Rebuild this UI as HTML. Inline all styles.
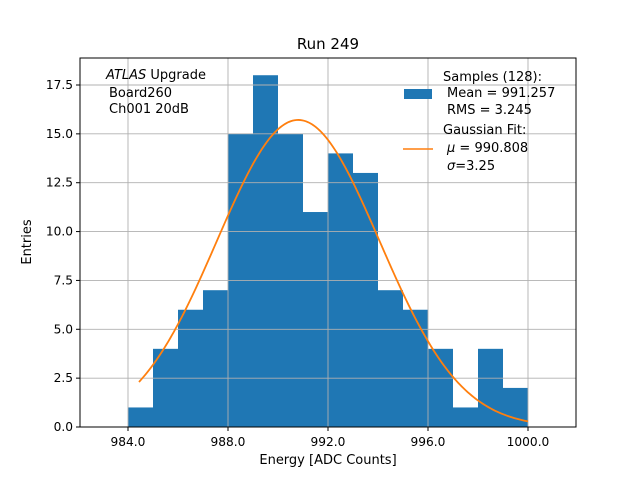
<!DOCTYPE html>
<html><head><meta charset="utf-8"><style>
body{margin:0;background:#fff}
svg{display:block;font-family:"DejaVu Sans","Liberation Sans",sans-serif}
</style></head><body>
<svg id="chart" width="640" height="480">
<rect width="640" height="480" fill="#fff"/>
<text x="328" y="49" text-anchor="middle" font-size="15">Run 249</text>
<g id="bars"></g>
<g id="grid"></g>
<path id="fit" fill="none" stroke="#ff7f0e" stroke-width="1.8"/>
<rect x="80" y="58" width="496" height="369" fill="none" stroke="#000" stroke-width="1"/>
<g id="xticks"></g>
<g id="yticks"></g>
<text x="328" y="467" text-anchor="middle" font-size="13" dy="-3">Energy [ADC Counts]</text>
<text transform="translate(31,242) rotate(-90)" text-anchor="middle" font-size="13">Entries</text>
<g font-size="13">
<text x="106" y="79"><tspan font-style="italic">ATLAS</tspan> Upgrade</text>
<text x="109" y="97">Board260</text>
<text x="109" y="113">Ch001 20dB</text>
</g>
<g font-size="13">
<rect x="404" y="89" width="28" height="10" fill="#1f77b4"/>
<text x="443" y="81">Samples (128):</text>
<text x="447" y="97">Mean = 991.257</text>
<text x="447" y="114">RMS = 3.245</text>
<line x1="403" y1="149" x2="433" y2="149" stroke="#ff7f0e" stroke-width="1.5"/>
<text x="443" y="134">Gaussian Fit:</text>
<text x="447" y="152"><tspan font-style="italic">μ</tspan> = 990.808</text>
<text x="447" y="170"><tspan font-style="italic">σ</tspan>=3.25</text>
</g>
</svg>
<script>
const binEdges=[984,985,986,987,988,989,990,991,992,993,994,995,996,997,998,999];
const counts=[1,4,6,7,15,18,15,11,14,13,7,6,4,1,4,2];
const fitMu=990.808, fitSigma=3.25, fitN=128;
const xTickVals=[984,988,992,996,1000];
const yTickVals=[0,2.5,5,7.5,10,12.5,15,17.5];
const NS='http://www.w3.org/2000/svg';
const X=v=>80+(v-982.08)*25, Y=v=>427-v*19.543;
const bars=document.getElementById('bars');
binEdges.forEach((e,i)=>{const r=document.createElementNS(NS,'rect');
r.setAttribute('x',X(e));r.setAttribute('width',25);r.setAttribute('y',Y(counts[i]));r.setAttribute('height',Y(0)-Y(counts[i]));r.setAttribute('fill','#1f77b4');


bars.appendChild(r);});
const grid=document.getElementById('grid'),xt=document.getElementById('xticks'),yt=document.getElementById('yticks');
function ln(g,x1,y1,x2,y2,c){const l=document.createElementNS(NS,'line');l.setAttribute('x1',x1);l.setAttribute('y1',y1);l.setAttribute('x2',x2);l.setAttribute('y2',y2);l.setAttribute('stroke',c);l.setAttribute('stroke-width',c=='#000'?1:0.9);g.appendChild(l);return l;}
function tx(g,x,y,s,a){const t=document.createElementNS(NS,'text');t.setAttribute('x',x);t.setAttribute('y',y);t.setAttribute('text-anchor',a);t.setAttribute('font-size','12.2');t.textContent=s;g.appendChild(t);return t;}
xTickVals.forEach(v=>{const gl=ln(grid,X(v),58,X(v),427,'#b0b0b0');


ln(xt,X(v),427,X(v),431,'#000');
const t=tx(xt,X(v),446,v.toFixed(1),'middle');

});
yTickVals.forEach(v=>{const gl=ln(grid,80,Y(v),576,Y(v),'#b0b0b0');


ln(yt,76,Y(v),80,Y(v),'#000');
const t=tx(yt,73,Y(v)+4,v.toFixed(1),'end');

});
let d='';const amp=fitN/(Math.sqrt(2*Math.PI)*fitSigma);
for(let k=0;k<=200;k++){const xv=binEdges[0]+0.44+(1000-binEdges[0]-0.44)*k/200;
const yv=amp*Math.exp(-((xv-fitMu)**2)/(2*fitSigma*fitSigma));
d+=(k?'L':'M')+X(xv).toFixed(2)+' '+Y(yv).toFixed(2);}
document.getElementById('fit').setAttribute('d',d);
</script>
</body></html>
